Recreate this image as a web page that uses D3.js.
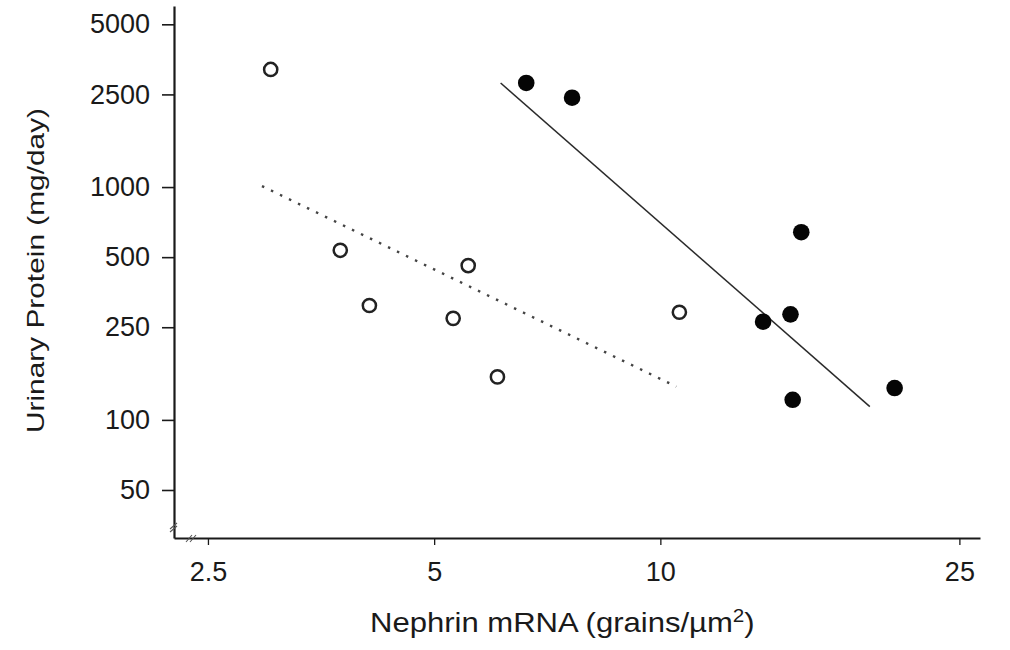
<!DOCTYPE html>
<html>
<head>
<meta charset="utf-8">
<script src="https://cdn.jsdelivr.net/npm/d3@7"></script>
<style>
  html, body { margin: 0; padding: 0; background: #fff; }
  svg { display: block; font-family: "Liberation Sans", Arial, Helvetica, sans-serif; }
</style>
</head>
<body>
<svg id="chart" width="1010" height="650"></svg>
<script>
// ---- data ----
const openX  = [3.03, 3.75, 4.1, 5.55, 5.3, 6.07, 10.6];
const openY  = [3200, 535, 310, 460, 273, 153, 290];
const filledX = [6.63, 7.63, 15.4, 14.9, 13.7, 15.0, 20.5];
const filledY = [2800, 2420, 640, 284, 264, 122, 137];
const solidFitX = [6.13, 19.0];
const solidFitY = [2800, 114];
const dottedFitX = [2.95, 10.5];
const dottedFitY = [1010, 139];
const xTicks = [2.5, 5, 10, 25];
const yTicks = [50, 100, 250, 500, 1000, 2500, 5000];
const xTitle = "Nephrin mRNA (grains/\u00B5m";
const yTitle = "Urinary Protein (mg/day)";

// ---- layout ----
const svg = d3.select("#chart");
const x = d3.scaleLog().domain([2.253, 26.63]).range([174, 980]);
const y = d3.scaleLog().domain([31.1, 5993]).range([538, 6]);
const ink = "#1a1a1a";

// axes
const gx = svg.append("g").attr("transform", "translate(0,538)")
  .call(d3.axisBottom(x).tickValues(xTicks).tickSize(7).tickSizeOuter(0)
        .tickPadding(17).tickFormat(d => String(d)));
const gy = svg.append("g").attr("transform", "translate(174,0)")
  .call(d3.axisLeft(y).tickValues(yTicks).tickSize(12).tickSizeOuter(0)
        .tickPadding(12).tickFormat(d => String(d)));

[gx, gy].forEach(g => {
  g.select(".domain").attr("stroke", ink).attr("stroke-width", 2.2);
  g.selectAll(".tick text").attr("fill", ink).attr("font-size", 27)
    .attr("font-family", '"Liberation Sans", Arial, sans-serif');
});
gx.selectAll(".tick line").attr("stroke", ink).attr("stroke-width", 1.3);
gy.selectAll(".tick line").attr("stroke", ink).attr("stroke-width", 1.6);

// axis break marks
const br = svg.append("g").attr("stroke", "#555").attr("stroke-width", 1.1).attr("fill", "none");
br.append("path").attr("d", "M170,529 L177,523 M170,532 L177,526");
br.append("path").attr("d", "M186,542 L192,535 M190,542 L196,535");

// fit lines
const line = d3.line().x(d => x(d[0])).y(d => y(d[1]));
svg.append("path")
  .datum(dottedFitX.map((v, i) => [v, dottedFitY[i]]))
  .attr("d", line).attr("fill", "none").attr("stroke", "#444")
  .attr("stroke-width", 2.4).attr("stroke-dasharray", "2.5,7.5");
svg.append("path")
  .datum(solidFitX.map((v, i) => [v, solidFitY[i]]))
  .attr("d", line).attr("fill", "none").attr("stroke", "#2a2a2a")
  .attr("stroke-width", 1.5);

// points
svg.append("g").selectAll("circle")
  .data(openX.map((v, i) => [v, openY[i]]))
  .join("circle")
  .attr("cx", d => x(d[0])).attr("cy", d => y(d[1])).attr("r", 6.6)
  .attr("fill", "#fff").attr("stroke", "#222").attr("stroke-width", 2.5);
svg.append("g").selectAll("circle")
  .data(filledX.map((v, i) => [v, filledY[i]]))
  .join("circle")
  .attr("cx", d => x(d[0])).attr("cy", d => y(d[1])).attr("r", 8.3)
  .attr("fill", "#050505");

// titles
const xt = svg.append("text").attr("transform", "translate(370,632) scale(1.15,1)")
  .attr("font-size", 27).attr("fill", ink);
xt.append("tspan").text(xTitle);
xt.append("tspan").attr("dy", -10).attr("font-size", 18).text("2");
xt.append("tspan").attr("dy", 10).text(")");

svg.append("text")
  .attr("transform", "translate(44,270.5) rotate(-90)")
  .attr("text-anchor", "middle")
  .attr("font-size", 24).attr("fill", ink)
  .attr("textLength", 325).attr("lengthAdjust", "spacingAndGlyphs")
  .text(yTitle);
</script>
</body>
</html>
